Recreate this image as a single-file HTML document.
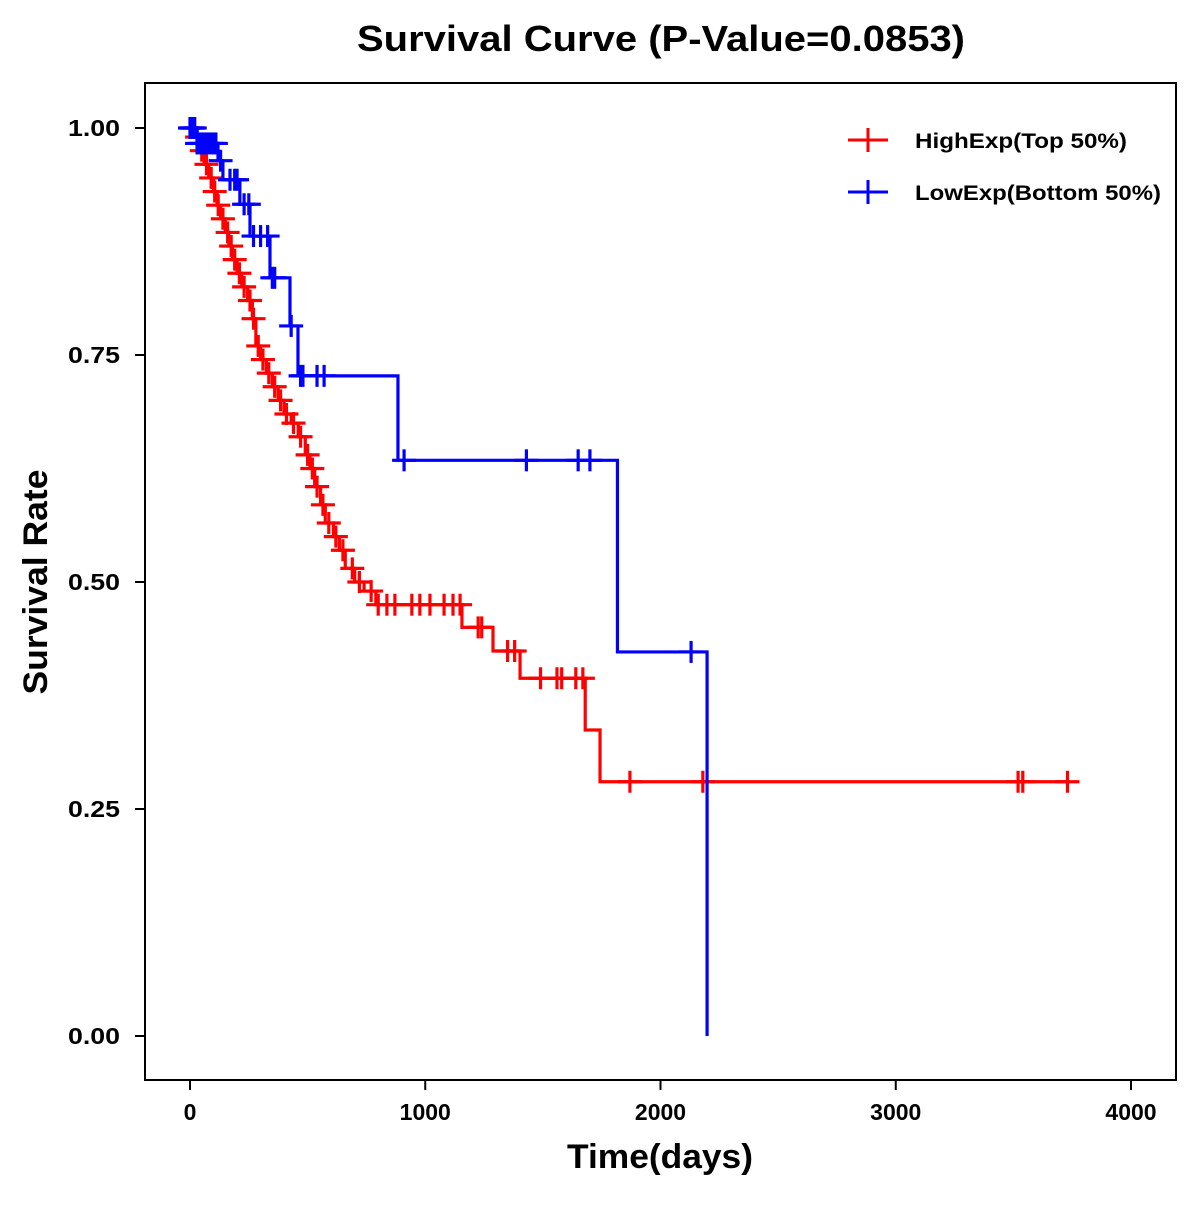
<!DOCTYPE html>
<html><head><meta charset="utf-8"><style>
body{margin:0;background:#fff;}
svg text{font-family:"Liberation Sans",Arial,sans-serif;font-weight:bold;}
</style></head><body>
<svg id="chart" width="1200" height="1200" xmlns="http://www.w3.org/2000/svg">
<rect width="1200" height="1200" fill="#fff"/>
<text x="661" y="51" font-size="36" text-anchor="middle" textLength="608" lengthAdjust="spacingAndGlyphs">Survival Curve (P-Value=0.0853)</text>
<rect x="145" y="83" width="1031" height="997" fill="none" stroke="#000" stroke-width="2"/>
<g id="axes"></g>
<g id="series"></g>
<text x="660" y="1168" font-size="34" text-anchor="middle" textLength="186" lengthAdjust="spacingAndGlyphs">Time(days)</text>
<text transform="translate(47,582) rotate(-90)" font-size="34" text-anchor="middle" textLength="225" lengthAdjust="spacingAndGlyphs">Survival Rate</text>
<g>
<g>
<line x1="848" y1="140" x2="888" y2="140" stroke="#f00" stroke-width="3"/><line x1="868" y1="128" x2="868" y2="152" stroke="#f00" stroke-width="3"/>
<text x="915" y="148" font-size="21" textLength="212" lengthAdjust="spacingAndGlyphs">HighExp(Top 50%)</text></g>
<g>
<line x1="848" y1="192" x2="888" y2="192" stroke="#00f" stroke-width="3"/><line x1="868" y1="180" x2="868" y2="204" stroke="#00f" stroke-width="3"/>
<text x="915" y="200" font-size="21" textLength="246" lengthAdjust="spacingAndGlyphs">LowExp(Bottom 50%)</text></g>
</g>
</svg>
<script>
const xTicks=[0,1000,2000,3000,4000];
const yTicks=[0,0.25,0.5,0.75,1.0];
const yTickLabels=["0.00","0.25","0.50","0.75","1.00"];
const highTimes=[0,20,40,60,80,100,115,130,150,165,180,200,220,245,265,280,300,325,350,375,400,430,460,490,510,530,555,575,610,635,660,700,740,790,1156,1288,1403,1680,1743];
const highSurv=[1.0,0.99,0.975,0.96,0.945,0.93,0.915,0.90,0.885,0.87,0.855,0.84,0.825,0.81,0.79,0.76,0.745,0.73,0.715,0.70,0.685,0.675,0.66,0.64,0.625,0.605,0.585,0.565,0.55,0.535,0.515,0.50,0.49,0.475,0.45,0.424,0.394,0.337,0.28];
const highEnd=3730;
const highCensor=[10,30,50,70,90,105,120,140,160,175,190,210,230,255,270,290,310,335,360,385,410,440,470,500,520,540,565,590,620,650,690,720,770,800,837,871,943,977,1020,1080,1118,1148,1225,1240,1350,1380,1490,1560,1580,1640,1670,1870,2180,3520,3540,3730];
const lowTimes=[0,30,119,140,212,255,340,425,459,884,1817,2198];
const lowSurv=[1.0,0.983,0.964,0.943,0.916,0.881,0.835,0.782,0.727,0.634,0.423,0.0];
const lowEnd=2198;
const lowCensor=[0,10,20,30,40,50,60,70,80,90,100,110,130,170,190,200,230,250,270,300,330,350,360,430,470,480,540,570,910,1430,1650,1700,2130];
const NS="http://www.w3.org/2000/svg";
const X=t=>190+t*(1131-190)/4000;
const Y=s=>1036-s*908;
const axes=document.getElementById('axes'),ser=document.getElementById('series');
function mk(tag,attrs,parent){const e=document.createElementNS(NS,tag);for(const k in attrs)e.setAttribute(k,attrs[k]);parent.appendChild(e);return e;}
xTicks.forEach(v=>{
 const l=mk('line',{x1:X(v),x2:X(v),y1:1080,y2:1090,stroke:'#000','stroke-width':2},axes);
 
 
 const t=mk('text',{x:X(v),y:1120,'font-size':23,'text-anchor':'middle'},axes);t.textContent=v;
 
 
});
yTicks.forEach((v,i)=>{
 const l=mk('line',{x1:135,x2:145,y1:Y(v),y2:Y(v),stroke:'#000','stroke-width':2},axes);
 
 
 const t=mk('text',{x:120,y:Y(v)+8,'font-size':23,'text-anchor':'end',textLength:52,lengthAdjust:'spacingAndGlyphs'},axes);t.textContent=yTickLabels[i];
 
 
});
function survAt(times,surv,t){let s=surv[0];for(let i=0;i<times.length;i++){if(times[i]<=t)s=surv[i];}return s;}
function draw(times,surv,end,cens,color,name){
 let d='M'+X(times[0])+','+Y(surv[0]);
 for(let i=1;i<times.length;i++){d+=' H'+X(times[i])+' V'+Y(surv[i]);}
 d+=' H'+X(end);
 const p=mk('path',{d:d,fill:'none',stroke:color,'stroke-width':3.2},ser);
 
 
 cens.forEach(t=>{
  const s=survAt(times,surv,t);
  const g=mk('g',{},ser);
  
  
  mk('line',{x1:X(t)-12,x2:X(t)+12,y1:Y(s),y2:Y(s),stroke:color,'stroke-width':3.2},g);
  mk('line',{x1:X(t),x2:X(t),y1:Y(s)-11,y2:Y(s)+11,stroke:color,'stroke-width':3.2},g);
 });
}
draw(highTimes,highSurv,highEnd,highCensor,'#f00','high-exp');
draw(lowTimes,lowSurv,lowEnd,lowCensor,'#00f','low-exp');
</script>
</body></html>
